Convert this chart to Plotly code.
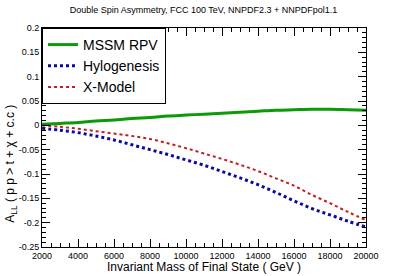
import plotly.graph_objects as go

mass = [2000, 3000, 4000, 5000, 6000, 7000, 8000, 9000, 10000, 11000,
        12000, 13000, 14000, 15000, 16000, 17000, 18000, 19000, 20000]
mssm_rpv = [0.002, 0.004, 0.006, 0.009, 0.011, 0.014, 0.016, 0.019, 0.021, 0.023,
            0.025, 0.027, 0.029, 0.031, 0.032, 0.033, 0.033, 0.032, 0.031]
hylogenesis = [-0.006, -0.010, -0.015, -0.022, -0.030, -0.040, -0.050, -0.060, -0.071, -0.082,
               -0.095, -0.108, -0.122, -0.138, -0.155, -0.171, -0.184, -0.197, -0.209]
x_model = [0.0, -0.003, -0.007, -0.012, -0.017, -0.022, -0.028, -0.037, -0.047, -0.058,
           -0.069, -0.081, -0.094, -0.109, -0.124, -0.143, -0.160, -0.178, -0.195]

x_ticks = [2000, 4000, 6000, 8000, 10000, 12000, 14000, 16000, 18000, 20000]
y_ticks = [0.2, 0.15, 0.1, 0.05, 0, -0.05, -0.1, -0.15, -0.2, -0.25]
y_tick_text = ["0.2", "0.15", "0.1", "0.05", "0", "-0.05", "-0.1", "-0.15", "-0.2", "-0.25"]

FONT = "Liberation Sans, Arial, sans-serif"

fig = go.Figure()
fig.add_trace(go.Scatter(x=mass, y=mssm_rpv, mode="lines", name="MSSM RPV",
                         line=dict(color="#0a9a0a", width=3, shape="spline")))
fig.add_trace(go.Scatter(x=mass, y=hylogenesis, mode="lines", name="Hylogenesis",
                         line=dict(color="#0a0aa0", width=3, dash="dot", shape="spline")))
fig.add_trace(go.Scatter(x=mass, y=x_model, mode="lines", name="X-Model",
                         line=dict(color="#c02020", width=2, dash="dot", shape="spline")))

axis_common = dict(showline=True, linecolor="black", linewidth=1, mirror="ticks",
                   ticks="inside", ticklen=8, tickcolor="black", showgrid=False,
                   zeroline=False, automargin=False,
                   tickfont=dict(family=FONT, size=9, color="black"))

fig.update_xaxes(range=[2000, 20000], tickvals=x_ticks, tickformat="d",
                 minor=dict(ticks="inside", ticklen=4, dtick=500, tickcolor="black", showgrid=False),
                 **axis_common)
fig.update_yaxes(range=[-0.25, 0.2], tickvals=y_ticks, ticktext=y_tick_text,
                 minor=dict(ticks="inside", ticklen=4, dtick=0.01, tickcolor="black", showgrid=False),
                 **axis_common)

fig.add_annotation(text="Invariant Mass of Final State ( GeV )",
                   xref="paper", yref="paper", x=0.5, y=0, xanchor="center",
                   yanchor="middle", yshift=-20,
                   showarrow=False, font=dict(family=FONT, size=12, color="black"))
fig.add_annotation(text="A<sub>LL</sub> ( p p &gt; t + χ + c.c )", textangle=-90,
                   xref="paper", yref="paper", x=0, y=0.38, xanchor="center",
                   yanchor="middle", xshift=-31,
                   showarrow=False, font=dict(family=FONT, size=12, color="black"))

fig.update_layout(
    width=407, height=276,
    margin=dict(l=42, r=41, t=28, b=29),
    paper_bgcolor="white", plot_bgcolor="white",
    title=dict(text="Double Spin Asymmetry, FCC 100 TeV, NNPDF2.3 + NNPDFpol1.1",
               x=0.5, xanchor="center", y=1 - 10 / 276, yanchor="middle",
               font=dict(family=FONT, size=9, color="black")),
    legend=dict(x=0, y=1, xanchor="left", yanchor="top", bgcolor="white",
                bordercolor="black", borderwidth=1,
                font=dict(family=FONT, size=14, color="black"),
                tracegroupgap=2, itemwidth=30),
    showlegend=True,
)

fig.write_html("out.html", config={"displayModeBar": False},
               post_script="document.body.style.margin='0';")
